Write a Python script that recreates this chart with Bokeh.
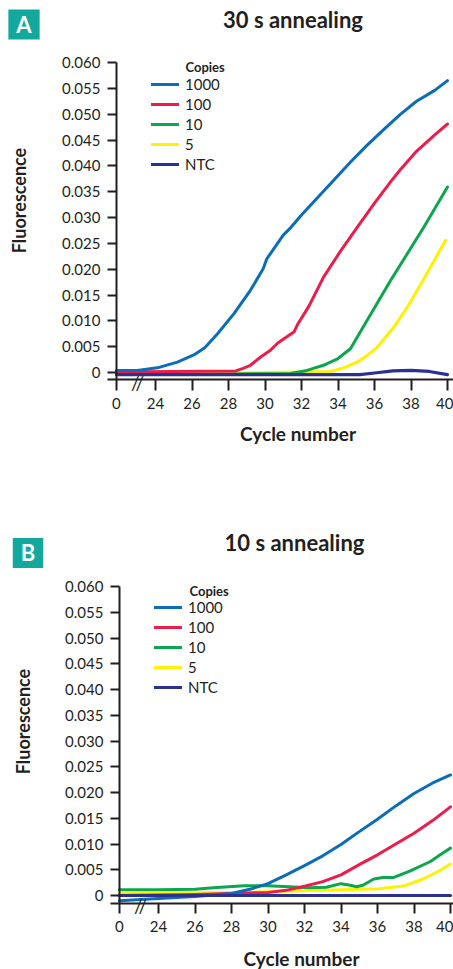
from math import pi
from bokeh.plotting import figure
from bokeh.models import Label, Legend, LegendItem, FixedTicker, Range1d
from bokeh.layouts import column
from bokeh.embed import file_html
from bokeh.resources import INLINE

# ---------------- data ----------------
COPIES = ["1000", "100", "10", "5", "NTC"]
COLORS = ["#0b6db7", "#ec1c4b", "#0ca64e", "#fff200", "#2b3091"]

X_TICKS = [21.86, 24, 26, 28, 30, 32, 34, 36, 38, 40]
X_TICK_LABELS = ["0", "24", "26", "28", "30", "32", "34", "36", "38", "40"]
Y_TICKS = [0, 0.005, 0.010, 0.015, 0.020, 0.025, 0.030, 0.035, 0.040, 0.045, 0.050, 0.055, 0.060]
Y_TICK_LABELS = ["0", "0.005", "0.010", "0.015", "0.020", "0.025", "0.030", "0.035",
                 "0.040", "0.045", "0.050", "0.055", "0.060"]

# Panel A: 30 s annealing
A_1000_X = [21.86, 23.0, 24.1, 25.2, 26.1, 26.7, 27.4, 28.3, 29.2, 29.9, 30.1, 31.0, 31.4, 32.0,
            32.9, 33.6, 34.7, 35.6, 36.5, 37.4, 38.3, 39.3, 40.0]
A_1000_Y = [0.0004, 0.0004, 0.0009, 0.0020, 0.0034, 0.0048, 0.0075, 0.0114, 0.0159, 0.0201, 0.0220,
            0.0266, 0.0280, 0.0305, 0.0339, 0.0366, 0.0408, 0.0440, 0.0470, 0.0499, 0.0525, 0.0546, 0.0565]
A_100_X = [21.86, 25.0, 28.4, 28.8, 29.2, 29.8, 30.3, 30.7, 31.6, 31.8, 32.4, 33.2, 34.1, 35.05,
           35.6, 36.0, 36.9, 37.4, 38.3, 39.3, 40.0]
A_100_Y = [0.0001, 0.0002, 0.0003, 0.0008, 0.0014, 0.0031, 0.0043, 0.0057, 0.0079, 0.0094, 0.0128,
           0.0184, 0.0233, 0.0281, 0.0308, 0.0328, 0.0370, 0.0392, 0.0428, 0.0460, 0.0481]
A_10_X = [21.86, 25.0, 31.4, 32.3, 33.2, 34.0, 34.68, 36.88, 38.7, 40.0]
A_10_Y = [-0.0004, -0.0004, -0.0002, 0.0004, 0.0014, 0.0027, 0.0046, 0.0178, 0.0281, 0.0359]
A_5_X = [21.86, 25.0, 33.6, 34.3, 35.05, 35.6, 36.15, 37.06, 37.79, 38.7, 39.9]
A_5_Y = [-0.0003, -0.0003, 0.0002, 0.0009, 0.0020, 0.0033, 0.0049, 0.0088, 0.0126, 0.0181, 0.0256]
A_NTC_X = [21.86, 28.0, 35.2, 36.0, 37.0, 38.0, 39.0, 40.0]
A_NTC_Y = [-0.0004, -0.0004, -0.0004, -0.0001, 0.0003, 0.0004, 0.0002, -0.0004]

# Panel B: 10 s annealing
B_1000_X = [21.86, 24.0, 26.0, 28.0, 29.0, 30.0, 31.0, 32.0, 33.0, 34.0, 35.0, 36.0, 37.0, 38.0, 39.0, 40.0]
B_1000_Y = [-0.0010, -0.0006, -0.0002, 0.0004, 0.0012, 0.0023, 0.0040, 0.0058, 0.0077, 0.0099,
            0.0124, 0.0148, 0.0174, 0.0198, 0.0218, 0.0234]
B_100_X = [21.86, 26.0, 30.0, 31.0, 32.0, 33.0, 34.0, 35.0, 36.0, 37.0, 38.0, 39.0, 40.0]
B_100_Y = [0.0000, 0.0002, 0.0006, 0.0010, 0.0018, 0.0027, 0.0040, 0.0060, 0.0079, 0.0100, 0.0121, 0.0145, 0.0172]
B_10_X = [21.86, 24.0, 26.0, 27.0, 28.7, 30.0, 32.3, 33.2, 34.0, 34.5, 34.85, 35.2, 35.8, 36.3, 36.9,
          37.8, 38.9, 39.6, 40.0]
B_10_Y = [0.0011, 0.0011, 0.0012, 0.0015, 0.0019, 0.0019, 0.0015, 0.0016, 0.0023, 0.0020, 0.0017,
          0.0020, 0.0032, 0.0035, 0.0035, 0.0048, 0.0066, 0.0083, 0.0092]
B_5_X = [21.86, 28.0, 32.0, 34.0, 36.1, 37.5, 38.5, 39.4, 40.0]
B_5_Y = [0.0004, 0.0006, 0.0009, 0.0011, 0.0013, 0.0019, 0.0032, 0.0048, 0.0061]
B_NTC_X = [21.86, 26.0, 30.0, 34.0, 38.0, 40.0]
B_NTC_Y = [0.0, 0.0, 0.0, 0.0, 0.0, 0.0]

PANELS = [
    dict(badge="A", title="30 s annealing",
         series=[(A_1000_X, A_1000_Y), (A_100_X, A_100_Y), (A_10_X, A_10_Y), (A_5_X, A_5_Y), (A_NTC_X, A_NTC_Y)]),
    dict(badge="B", title="10 s annealing",
         series=[(B_1000_X, B_1000_Y), (B_100_X, B_100_Y), (B_10_X, B_10_Y), (B_5_X, B_5_Y), (B_NTC_X, B_NTC_Y)]),
]

# ---------------- layout (page pixels) ----------------
INK = "#231f20"
TEAL = "#14a89c"
FONT = "Lato"
W = 453
X0 = X_TICKS[0]

LAYOUT = [
    dict(top=0, h=510, x24=155, x40=447, ftop=62, zero=372, fbot=379, tickbot=390,
         axleft=107, badge=(23.5, 24), title=(292.5, 19), ylab=(18, 200), xlab=(297.5, 433),
         brk=(137, 382), copies=(185, 66), leg=(151, 174)),
    dict(top=510, h=459, x24=158, x40=450, ftop=586, zero=895, fbot=903, tickbot=913,
         axleft=110, badge=(27.5, 552.5), title=(294, 542), ylab=(22, 721), xlab=(301, 958),
         brk=(140, 905), copies=(189, 590), leg=(154, 697)),
]

figs = []
for panel, L in zip(PANELS, LAYOUT):
    pxc = (L["x40"] - L["x24"]) / 16.0
    pyu = (L["zero"] - L["ftop"]) / 0.060

    def dx(px, L=L, pxc=pxc):
        return 24 + (px - L["x24"]) / pxc

    def dy(py, L=L, pyu=pyu):
        return (L["zero"] - py) / pyu

    top, h = L["top"], L["h"]
    p = figure(width=W, height=h, output_backend="svg", toolbar_location=None,
               x_range=Range1d(dx(0), dx(W)), y_range=Range1d(dy(top + h), dy(top)),
               min_border=0)
    p.outline_line_color = None
    p.grid.visible = False
    p.background_fill_color = "white"
    p.border_fill_color = "white"

    x_axis_y = dy(L["fbot"])
    p.xaxis.fixed_location = x_axis_y
    p.xaxis.bounds = (dx(L["axleft"]), dx(W))
    p.yaxis.fixed_location = X0
    p.yaxis.bounds = (x_axis_y, 0.060)

    p.xaxis.ticker = FixedTicker(ticks=X_TICKS)
    p.xaxis.major_label_overrides = dict(zip(X_TICKS, X_TICK_LABELS))
    p.yaxis.ticker = FixedTicker(ticks=Y_TICKS)
    p.yaxis.major_label_overrides = dict(zip(Y_TICKS, Y_TICK_LABELS))
    for ax in (p.xaxis, p.yaxis):
        ax.axis_line_color = INK
        ax.axis_line_width = 2
        ax.major_tick_line_color = INK
        ax.major_tick_line_width = 2
        ax.major_tick_in = 0
        ax.minor_tick_line_color = None
        ax.major_label_text_font = FONT
        ax.major_label_text_font_size = "15px"
        ax.major_label_text_color = INK
    p.xaxis.major_tick_out = L["tickbot"] - L["fbot"]
    p.yaxis.major_tick_out = 9
    p.xaxis.major_label_standoff = 7
    p.yaxis.major_label_standoff = 7

    renderers = {}
    for i in [3, 2, 1, 0, 4]:
        xs, ys = panel["series"][i]
        renderers[i] = p.line(xs, ys, line_color=COLORS[i], line_width=3 if i != 4 else 3.2,
                              line_join="round", line_cap="round")

    items = [LegendItem(label=COPIES[i], renderers=[renderers[i]]) for i in range(5)]
    lx, lb = L["leg"]
    leg = Legend(items=items, location=(lx, top + h - lb), padding=0, margin=0, spacing=0,
                 glyph_width=28, glyph_height=20, label_height=20, label_standoff=6,
                 label_text_font=FONT, label_text_font_size="15px", label_text_color=INK,
                 border_line_color=None, background_fill_alpha=0)
    p.add_layout(leg)

    bx, by = L["badge"]
    p.add_layout(Label(x=dx(bx), y=dy(by), text=panel["badge"], text_align="center",
                       text_baseline="middle", text_color="white", text_font=FONT,
                       text_font_style="bold", text_font_size="22px",
                       background_fill_color=TEAL,
                       padding=dict(left=8, right=8, top=1, bottom=2)))
    tx, ty = L["title"]
    p.add_layout(Label(x=dx(tx), y=dy(ty), text=panel["title"], text_align="center",
                       text_baseline="middle", text_color=INK, text_font=FONT,
                       text_font_style="bold", text_font_size="22px"))
    yx, yy = L["ylab"]
    p.add_layout(Label(x=dx(yx), y=dy(yy), text="Fluorescence", text_align="center",
                       text_baseline="middle", angle=pi / 2, text_color=INK, text_font=FONT,
                       text_font_style="bold", text_font_size="18px"))
    xx, xy = L["xlab"]
    p.add_layout(Label(x=dx(xx), y=dy(xy), text="Cycle number", text_align="center",
                       text_baseline="middle", text_color=INK, text_font=FONT,
                       text_font_style="bold", text_font_size="19px"))
    kx, ky = L["brk"]
    p.add_layout(Label(x=dx(kx), y=dy(ky), text="//", text_align="center",
                       text_baseline="middle", text_color=INK, text_font=FONT,
                       text_font_size="19px"))
    cx, cy = L["copies"]
    p.add_layout(Label(x=dx(cx), y=dy(cy), text="Copies", text_align="left",
                       text_baseline="middle", text_color=INK, text_font=FONT,
                       text_font_style="bold", text_font_size="13px"))
    figs.append(p)

layout = column(*figs, spacing=0)
open("out.html", "w").write(file_html(layout, INLINE))
